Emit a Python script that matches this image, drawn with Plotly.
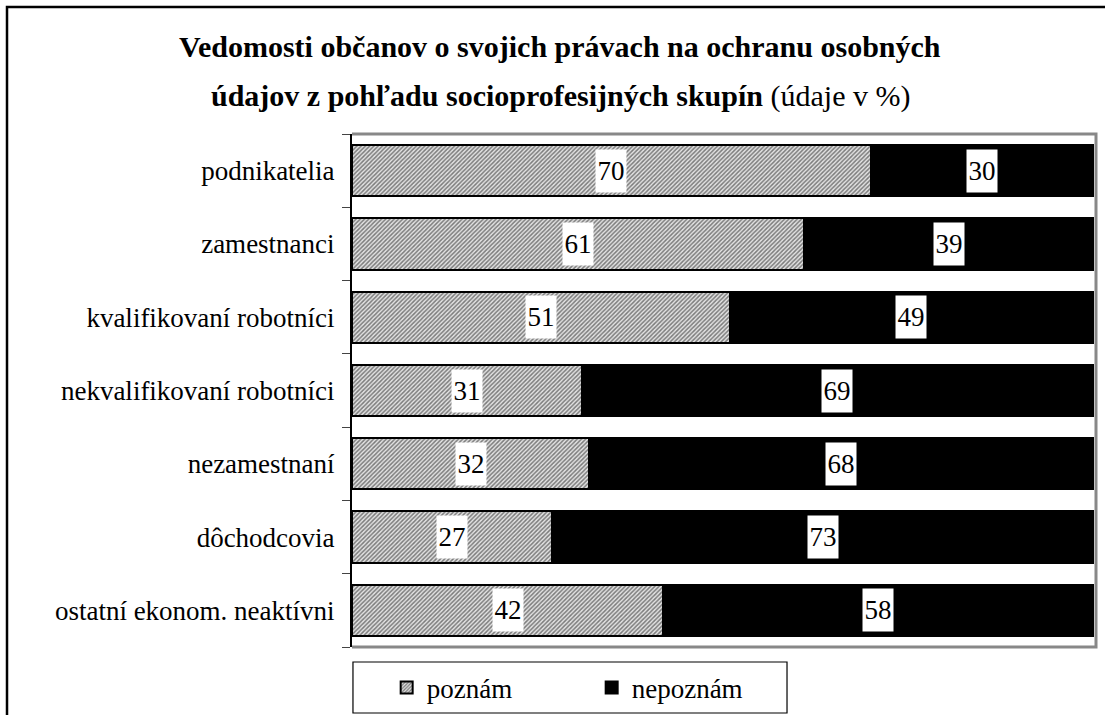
import plotly.graph_objects as go

## Data:
# ======================================
kategorie = [
    'podnikatelia',
    'zamestnanci',
    'kvalifikovaní robotníci',
    'nekvalifikovaní robotníci',
    'nezamestnaní',
    'dôchodcovia',
    'ostatní ekonom. neaktívni',
]
poznam = [70, 61, 51, 31, 32, 27, 42]
nepoznam = [30, 39, 49, 69, 68, 73, 58]

titel_1 = 'Vedomosti občanov o svojich právach na ochranu osobných'
titel_2 = 'údajov z pohľadu socioprofesijných skupín'
titel_2_extra = ' (údaje v %)'

font_serif = '"Liberation Serif", "Times New Roman", serif'

## Figuur:
# ======================================
fig = go.Figure()

fig.add_trace(go.Bar(
    y=kategorie, x=poznam, name='poznám', orientation='h',
    marker=dict(
        color='#bdbdbd',
        line=dict(color='black', width=2),
        pattern=dict(shape='/', fgcolor='#111111', bgcolor='#e4e4e4', size=3, solidity=0.5),
    ),
    hoverinfo='none',
))
fig.add_trace(go.Bar(
    y=kategorie, x=nepoznam, base=poznam, name='nepoznám', orientation='h',
    marker=dict(color='black', line=dict(color='black', width=2)),
    hoverinfo='none',
))

## Waarde labels (witte kaders):
# --------------------------------------
for kat, p, n in zip(kategorie, poznam, nepoznam):
    for x_mid, waarde in [(p / 2, p), (p + n / 2, n)]:
        fig.add_annotation(
            x=x_mid, y=kat, text=str(waarde), showarrow=False,
            bgcolor='white', borderpad=0, width=30, height=42,
            font=dict(family=font_serif, size=27, color='black'),
        )

## Titel:
# --------------------------------------
fig.add_annotation(
    x=0.2796, y=1.1715, xref='paper', yref='paper', showarrow=False,
    text=f'<b>{titel_1}</b>', xanchor='center', yanchor='middle',
    font=dict(family=font_serif, size=30, color='black'),
)
fig.add_annotation(
    x=0.2796, y=1.074, xref='paper', yref='paper', showarrow=False,
    text=f'<b>{titel_2}</b>{titel_2_extra}', xanchor='center', yanchor='middle',
    font=dict(family=font_serif, size=30, color='black'),
)

## Kaders:
# --------------------------------------
fig.add_shape(
    type='path', xref='paper', yref='paper',
    path='M 0,1 L 1,1 L 1,0 L 0,0',
    line=dict(color='#888888', width=3), layer='below',
)
fig.add_shape(
    type='path', xref='paper', yref='paper',
    path='M -0.4637,-0.3 L -0.4637,1.2476 L 1.1,1.2476',
    line=dict(color='black', width=2.5),
)
fig.add_shape(
    type='rect', xref='paper', yref='paper',
    x0=0.0013, x1=0.5847, y0=-0.0292, y1=-0.1287,
    line=dict(color='black', width=1.2),
)

fig.update_layout(
    width=1105, height=715,
    margin=dict(l=352, r=9, t=134, b=68, autoexpand=False),
    paper_bgcolor='white', plot_bgcolor='white',
    barmode='stack', bargap=0.3,
    font=dict(family=font_serif, size=27, color='black'),
    xaxis=dict(range=[0, 100.4], showgrid=False, showticklabels=False,
               zeroline=False, showline=False, fixedrange=True),
    yaxis=dict(categoryorder='array', categoryarray=kategorie[::-1],
               showline=True, linecolor='black', linewidth=2,
               ticks='outside', tickson='boundaries', ticklen=8, tickcolor='#444',
               ticklabelstandoff=10, showgrid=False, fixedrange=True),
    legend=dict(
        orientation='h', traceorder='normal',
        x=0.0466, xanchor='left', y=-0.032, yanchor='top',
        bgcolor='rgba(0,0,0,0)', borderwidth=0,
        font=dict(family=font_serif, size=27, color='black'),
        entrywidth=160,
    ),
    showlegend=True,
)

## Geen marge rond de pagina:
# --------------------------------------
fig.write_html('out.html', config={'displayModeBar': False},
               post_script="document.body.style.margin='0';")
